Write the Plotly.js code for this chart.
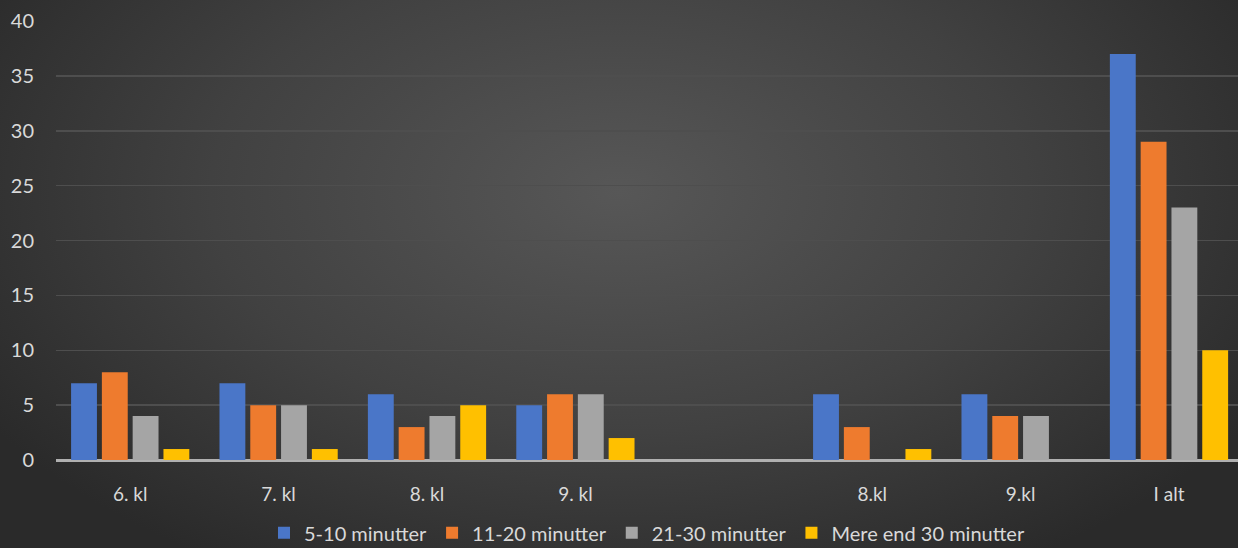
<!DOCTYPE html>
<html><head><meta charset="utf-8">
<script src="https://cdn.plot.ly/plotly-3.0.1.min.js"></script>
<style>
html,body{margin:0;padding:0;}
#chart{width:1238px;height:548px;background:radial-gradient(ellipse 60% 80% at 50% 35%, #575757 0%, #414141 55%, #2a2a2a 100%);}
</style></head><body>
<div id="chart"></div>
<script>
const categories = ["6. kl", "7. kl", "8. kl", "9. kl", " ", "8.kl", "9.kl", "I alt"];
const seriesNames = ["5-10 minutter", "11-20 minutter", "21-30 minutter", "Mere end 30 minutter"];
const v5_10  = [7, 7, 6, 5, null, 6, 6, 37];
const v11_20 = [8, 5, 3, 6, null, 3, 4, 29];
const v21_30 = [4, 5, 4, 6, null, 0, 4, 23];
const vOver30 = [1, 1, 5, 2, null, 1, 0, 10];
const colors = ["#4a76c8", "#ee7b2e", "#a5a5a5", "#ffc000"];
const yTicks = [0, 5, 10, 15, 20, 25, 30, 35, 40];

const values = [v5_10, v11_20, v21_30, vOver30];
const traces = values.map((v, i) => ({
  type: 'bar', name: seriesNames[i], x: categories, y: v,
  marker: {color: colors[i], line: {width: 0}}, hoverinfo: 'x+y+name'
}));

const layout = {
  width: 1238, height: 548,
  paper_bgcolor: 'rgba(0,0,0,0)', plot_bgcolor: 'rgba(0,0,0,0)',
  margin: {l: 56, r: 0, t: 21, b: 88, autoexpand: false},
  barmode: 'group', bargap: 0.17, bargroupgap: 0.16,
  font: {family: 'Lato, "Open Sans", sans-serif', color: '#d9d9d9', size: 19},
  xaxis: {
    type: 'category', range: [-0.5, 7.465], showgrid: false, zeroline: false,
    showline: false, ticks: 'outside', ticklen: 17, tickcolor: 'rgba(0,0,0,0)',
    tickfont: {size: 19, color: '#d9d9d9'}, fixedrange: true
  },
  yaxis: {
    range: [0, 40], tickvals: yTicks, showgrid: true, gridcolor: '#4e4e4e', gridwidth: 1.5,
    zeroline: true, zerolinecolor: '#b0b0b0', zerolinewidth: 3,
    showline: false, ticks: 'outside', ticklen: 17, tickcolor: 'rgba(0,0,0,0)',
    tickfont: {size: 20, color: '#d9d9d9'}, fixedrange: true
  },
  showlegend: true,
  legend: {orientation: 'h', x: 0.5, xanchor: 'center', y: -0.166, yanchor: 'middle',
           font: {size: 20, color: '#d9d9d9'}, bgcolor: 'rgba(0,0,0,0)', itemwidth: 30,
           traceorder: 'normal'}
};
Plotly.newPlot('chart', traces, layout, {displayModeBar: false, staticPlot: true});
</script>
</body></html>
